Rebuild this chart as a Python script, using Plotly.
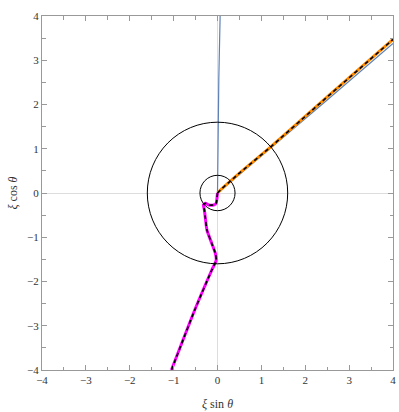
import plotly.graph_objects as go

# curves (xi sin theta, xi cos theta)
blue_up_x = [0.0, 0.005, 0.01, 0.03, 0.06]
blue_up_y = [0.0, 0.6, 1.2, 2.6, 4.0]

blue_diag_x = [0.0, 0.5, 1.2, 2.5, 4.0]
blue_diag_y = [0.0, 0.42, 0.99, 2.1, 3.38]

orange_x = [0.0, 0.1, 0.5, 1.2, 2.5, 4.0]
orange_y = [0.0, 0.1, 0.45, 1.03, 2.17, 3.47]

magenta_x = [0.0, -0.01, -0.03, -0.09, -0.2, -0.28, -0.32, -0.3, -0.28, -0.24,
             -0.13, -0.05, -0.03, -0.13, -0.5, -1.05]
magenta_y = [0.0, -0.1, -0.23, -0.27, -0.27, -0.23, -0.27, -0.38, -0.54, -0.84,
             -1.14, -1.36, -1.52, -1.74, -2.6, -4.0]

circle_radii = [0.4, 1.6]

font = dict(family="Liberation Serif", size=11, color="#333333")

fig = go.Figure()
fig.add_trace(go.Scatter(x=blue_up_x, y=blue_up_y, mode="lines",
                         line=dict(color="#5e81b5", width=1.2)))
fig.add_trace(go.Scatter(x=blue_diag_x, y=blue_diag_y, mode="lines",
                         line=dict(color="#5e81b5", width=1.2)))
fig.add_trace(go.Scatter(x=orange_x, y=orange_y, mode="lines",
                         line=dict(color="#ff8c00", width=3)))
fig.add_trace(go.Scatter(x=orange_x, y=orange_y, mode="lines",
                         line=dict(color="black", width=1.6, dash="4px,3px")))
fig.add_trace(go.Scatter(x=magenta_x, y=magenta_y, mode="lines",
                         line=dict(color="#ff00ff", width=3, shape="spline", smoothing=0.6)))
fig.add_trace(go.Scatter(x=magenta_x, y=magenta_y, mode="lines",
                         line=dict(color="black", width=1.6, dash="4px,3px",
                                   shape="spline", smoothing=0.6)))

for r in circle_radii:
    fig.add_shape(type="circle", xref="x", yref="y", x0=-r, y0=-r, x1=r, y1=r,
                  line=dict(color="black", width=1), layer="above")

axis_common = dict(
    range=[-4, 4], dtick=1, showgrid=False,
    zeroline=True, zerolinecolor="#dddddd", zerolinewidth=1,
    showline=True, linecolor="#999999", linewidth=1, mirror="ticks",
    ticks="inside", ticklen=5, tickcolor="#999999",
    minor=dict(dtick=0.5, ticks="inside", ticklen=3.5, tickcolor="#999999"),
    ticklabeloverflow="allow",
    tickfont=font, title_font=dict(family="Liberation Serif", size=12, color="#333333"),
)

fig.update_xaxes(**axis_common, title_text="<i>ξ</i> sin <i>θ</i>", title_standoff=14)
fig.update_yaxes(**axis_common, title_text="<i>ξ</i> cos <i>θ</i>", title_standoff=6)

fig.update_layout(
    width=399, height=412,
    margin=dict(l=42, r=3, t=16, b=42),
    plot_bgcolor="white", paper_bgcolor="white",
    showlegend=False,
)

fig.write_html("out.html", config={"displayModeBar": False},
               post_script="document.body.style.margin='0';"
                           "document.body.style.overflow='hidden';")
